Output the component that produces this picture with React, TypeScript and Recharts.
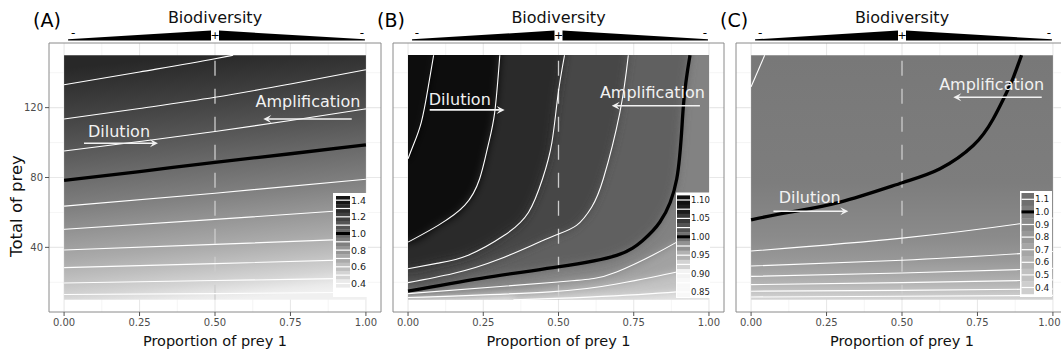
import React from "react";
import {
  ComposedChart, XAxis, YAxis, CartesianGrid, Line, Area,
  ReferenceArea, ReferenceLine, ReferenceDot,
} from "recharts";

type Pt = { x: number; y: number };
const pts = (a: number[][]): Pt[] => a.map(([x, y]) => ({ x, y }));

const FONT = "'DejaVu Sans', Verdana, sans-serif";

// axes
const xTicks = [0, 0.25, 0.5, 0.75, 1];
const xMinor = [0.125, 0.375, 0.625, 0.875];
const yTicks = [40, 80, 120];
const yMinor = [20, 60, 100, 140];

// ---- (A) contour lines ----
const a130 = pts([[0, 133.1], [0.25, 140.4], [0.5, 148], [0.56, 150]]);
const a120 = pts([[0, 113.5], [0.25, 119.5], [0.5, 125.9], [0.75, 133.5], [1, 141.7]]);
const a110 = pts([[0, 95.2], [0.25, 100.6], [0.5, 106.3], [0.75, 112.6], [1, 119.3]]);
const a100 = pts([[0, 78.3], [0.25, 83.4], [0.5, 88.7], [0.75, 93.6], [1, 98.7]]);
const a090 = pts([[0, 63.6], [0.5, 71], [1, 79]]);
const a080 = pts([[0, 50.3], [0.5, 56], [1, 62]]);
const a070 = pts([[0, 38.5], [0.5, 41.7], [1, 45]]);
const a060 = pts([[0, 28.4], [0.5, 30.7], [1, 33.1]]);
const a050 = pts([[0, 19.6], [0.5, 21], [1, 22.4]]);
const a040 = pts([[0, 13], [0.5, 13.5], [1, 14.3]]);
const aLevels = [1.3, 1.2, 1.1, 1.0, 0.9, 0.8, 0.7, 0.6, 0.5, 0.4];
const aEdge = [1.31, 0.37];

// ---- (B) ----
const b1100 = pts([[0, 90.7], [0.017, 98.3], [0.044, 111.6], [0.066, 130.7], [0.085, 150]]);
const b1075 = pts([[0, 43], [0.1, 52.6], [0.188, 64], [0.238, 79.3], [0.266, 98.3], [0.288, 117.3], [0.305, 150]]);
const b1050 = pts([[0, 27.8], [0.1, 31], [0.2, 35.5], [0.32, 46.9], [0.4, 60], [0.447, 79.3], [0.478, 100], [0.498, 126.9], [0.52, 150]]);
const b1025 = pts([[0, 19.8], [0.15, 25], [0.3, 33], [0.47, 45.5], [0.56, 52.6], [0.61, 63], [0.649, 79.3], [0.704, 117.3], [0.732, 150]]);
const b1000 = pts([[0, 14.9], [0.243, 22.3], [0.498, 28.8], [0.693, 35.4], [0.78, 44], [0.837, 54.5], [0.893, 79.3], [0.915, 121], [0.937, 150]]);
const b0975 = pts([[0, 13.5], [0.498, 20.2], [0.693, 25.9], [0.893, 43], [1, 55]]);
const b0950 = pts([[0, 11.3], [0.472, 14.5], [0.693, 19], [0.893, 25.9], [1, 31]]);
const b0925 = pts([[0.35, 10], [0.6, 11.5], [0.893, 14.5], [1, 17]]);
const bLevels = [1.1, 1.075, 1.05, 1.025, 1.0, 0.975, 0.95, 0.925];

// ---- (C) ----
const c110 = pts([[0, 132], [0.045, 150]]);
const c100 = pts([[0, 55.8], [0.129, 60.2], [0.295, 65.9], [0.501, 77], [0.626, 85], [0.736, 98.3], [0.802, 113.5], [0.847, 128.8], [0.869, 137.3], [0.896, 150]]);
const c090 = pts([[0, 37.9], [0.5, 45.3], [0.89, 53.5], [1, 56.8]]);
const c080 = pts([[0, 29.3], [0.5, 32.6], [0.89, 36.4], [1, 37.6]]);
const c070 = pts([[0, 23.4], [0.5, 25.3], [0.89, 27.3], [1, 28]]);
const c060 = pts([[0, 18.7], [0.5, 19.8], [0.89, 21], [1, 21.4]]);
const c050 = pts([[0, 14.9], [0.5, 15.4], [0.89, 16], [1, 16.2]]);
const c040 = pts([[0, 11.6], [0.5, 12], [0.89, 12.4], [1, 12.5]]);
const cLevels = [1.1, 1.0, 0.9, 0.8, 0.7, 0.6, 0.5, 0.4];
const cEdge = [1.04, 0.35];

// legends
const legendLevelsA = [1.4, 1.3, 1.2, 1.1, 1.0, 0.9, 0.8, 0.7, 0.6, 0.5, 0.4, 0.3];
const legendLabelsA = ["1.4", "1.2", "1.0", "0.8", "0.6", "0.4"];
const legendLevelsB = [1.1, 1.075, 1.05, 1.025, 1.0, 0.975, 0.95, 0.925, 0.9, 0.875, 0.85];
const legendLabelsB = ["1.10", "1.05", "1.00", "0.95", "0.90", "0.85"];
const legendLevelsC = [1.1, 1.0, 0.9, 0.8, 0.7, 0.6, 0.5, 0.4];
const legendLabelsC = ["1.1", "1.0", "0.9", "0.8", "0.7", "0.6", "0.5", "0.4"];

// ---- colour scales (white -> black) ----
const hex = (g: number) => {
  const v = Math.max(0, Math.min(255, Math.round(g))).toString(16).padStart(2, "0");
  return `#${v}${v}${v}`;
};
const grayA = (v: number) => hex(255 * (1 - (v - 0.3) / 1.2));
const grayB = (v: number) => {
  const g = v < 1.0125 ? 97 + (1.0125 - v) * 1300 : 97 - (v - 1.0125) * 1100;
  return hex(Math.max(16, Math.min(248, g)));
};
const grayC = (v: number) => hex(125 + (1 - v) * 135);

// ---- layout ----
const W = 1061;
const H = 354;
const PLOT_TOP = 43;
const PLOT_BOTTOM = 312;
const X_DOMAIN = [-0.05, 1.05];
const Y_DOMAIN = [3, 157];
const layout = [
  { left: 0, width: 382, yw: 49 },
  { left: 383, width: 342, yw: 10 },
  { left: 726, width: 343, yw: 10 },
];
const pxX = (i: number, v: number) => {
  const l = layout[i];
  const a = l.left + l.yw, b = l.left + l.width - 1;
  return a + ((v - X_DOMAIN[0]) / (X_DOMAIN[1] - X_DOMAIN[0])) * (b - a);
};
const pxY = (v: number) => PLOT_TOP + ((Y_DOMAIN[1] - v) / (Y_DOMAIN[1] - Y_DOMAIN[0])) * (PLOT_BOTTOM - PLOT_TOP);

const gridGen = (vals: number[], axis: "x" | "y", idx: number) => (p: any) => {
  const ax = axis === "x" ? p?.xAxis : p?.yAxis;
  if (ax && typeof ax.scale === "function") {
    const r = vals.map((v) => ax.scale(v));
    if (r.every((n: any) => Number.isFinite(n))) return r;
  }
  if (axis === "x") return vals.map((v) => pxX(idx, v) - layout[idx].left);
  return vals.map((v) => pxY(v));
};

const yAt = (c: Pt[], x: number) => {
  for (let i = 1; i < c.length; i++) {
    if (c[i].x >= x) {
      const a = c[i - 1], b = c[i];
      return a.y + ((b.y - a.y) * (x - a.x)) / (b.x - a.x);
    }
  }
  return c[c.length - 1].y;
};

// gradient stops from the contour positions at x = 0.5
const stopsFrom = (cs: Pt[][], levels: number[], edge: number[], gray: (v: number) => string) => {
  const s = cs
    .map((c, i) => ({ c, lv: levels[i] }))
    .filter(({ c }) => c[0].x <= 0.5 && c[c.length - 1].x >= 0.5)
    .map(({ c, lv }) => ({ off: (150 - yAt(c, 0.5)) / 140, col: gray(lv) }))
    .sort((p, q) => p.off - q.off);
  return [{ off: 0, col: gray(edge[0]) }, ...s, { off: 1, col: gray(edge[1]) }];
};

// carry a band's edge value flat past the raster border so the blur has no fringe
const padBand = (d: Pt[]) => {
  const out = [...d];
  if (out[0].x === 0) out.unshift({ x: X_DOMAIN[0], y: out[0].y });
  if (out[out.length - 1].x === 1) out.push({ x: X_DOMAIN[1], y: out[out.length - 1].y });
  return out;
};

type Note = { text: string; x: number; y: number; ax1: number; ax2: number; ay: number };
const notesA: Note[] = [
  { text: "Dilution", x: 0.182, y: 106.3, ax1: 0.066, ax2: 0.311, ay: 99.6 },
  { text: "Amplification", x: 0.808, y: 123.4, ax1: 0.953, ax2: 0.66, ay: 113.5 },
];
const notesB: Note[] = [
  { text: "Dilution", x: 0.172, y: 124.6, ax1: 0.072, ax2: 0.321, ay: 118.7 },
  { text: "Amplification", x: 0.812, y: 128.7, ax1: 0.97, ax2: 0.677, ay: 121.1 },
];
const notesC: Note[] = [
  { text: "Dilution", x: 0.194, y: 68.4, ax1: 0.074, ax2: 0.322, ay: 60.7 },
  { text: "Amplification", x: 0.797, y: 133.5, ax1: 0.963, ax2: 0.67, ay: 125.9 },
];

const NOTE_COL = "#f2f2f2";
const Arrow = (p: any) => {
  const { x1, y1, x2, y2 } = p;
  const d = Math.sign(x2 - x1) || 1;
  const hl = 8, hw = 4;
  return (
    <g>
      <line x1={x1} y1={y1} x2={x2 - d * hl * 0.6} y2={y2} stroke={NOTE_COL} strokeWidth={1.6} />
      <polygon
        points={`${x2},${y2} ${x2 - d * hl},${y2 - hw} ${x2 - d * hl * 0.6},${y2} ${x2 - d * hl},${y2 + hw}`}
        fill={NOTE_COL}
      />
    </g>
  );
};

const makeXTick = (idx: number) => (p: any) => {
  const { x, y, payload } = p;
  const label = Number(payload.value).toFixed(2);
  const over = layout[idx].left + x + 11 > W;
  return (
    <text
      x={over ? W - layout[idx].left - 0.5 : x}
      y={y}
      dy="0.71em"
      textAnchor={over ? "end" : "middle"}
      fontSize={10}
      fill="#4d4d4d"
      fontFamily={FONT}
    >
      {label}
    </text>
  );
};

type PanelProps = {
  idx: number;
  lines: { data: Pt[]; level: number }[];
  base?: { data: Pt[]; fill: string };
  bands?: { data: Pt[]; fill: string }[];
  grad?: { id: string; stops: { off: number; col: string }[]; tilt: number };
  notes: Note[];
  curve: "monotone" | "natural";
};

function Panel({ idx, lines, base, bands, grad, notes, curve }: PanelProps) {
  const l = layout[idx];
  const showY = idx === 0;
  // raster rectangle in this chart's own pixels (for the blur mask)
  const rx = pxX(idx, 0) - l.left, rw = pxX(idx, 1) - pxX(idx, 0);
  const ry = pxY(150), rh = pxY(10) - pxY(150);
  return (
    <div style={{ position: "absolute", left: l.left, top: 0 }}>
      <style>{`g.band${idx} { filter: url(#blur${idx}); }`}</style>
      <ComposedChart width={l.width} height={H} margin={{ top: PLOT_TOP, right: 1, bottom: 0, left: 0 }}>
        <defs>
          {grad && (
            <linearGradient id={grad.id} x1={0.5 - grad.tilt / 2} y1={0} x2={0.5 + grad.tilt / 2} y2={1}>
              {grad.stops.map((s, i) => (
                <stop key={i} offset={s.off} stopColor={s.col} />
              ))}
            </linearGradient>
          )}
          <filter id={`blur${idx}`} filterUnits="userSpaceOnUse" primitiveUnits="userSpaceOnUse"
            x={0} y={0} width={l.width} height={H}>
            <feGaussianBlur in="SourceGraphic" stdDeviation={4} result="bl" />
            <feFlood floodColor="#000" floodOpacity={1} x={rx} y={ry} width={rw} height={rh} result="m" />
            <feComposite in="bl" in2="m" operator="in" />
          </filter>
        </defs>
        <CartesianGrid
          stroke="#f3f3f3"
          strokeWidth={0.8}
          verticalCoordinatesGenerator={gridGen(xMinor, "x", idx)}
          horizontalCoordinatesGenerator={gridGen(yMinor, "y", idx)}
        />
        <CartesianGrid
          stroke="#e8e8e8"
          strokeWidth={1.1}
          verticalCoordinatesGenerator={gridGen(xTicks, "x", idx)}
          horizontalCoordinatesGenerator={gridGen(yTicks, "y", idx)}
        />
        <XAxis
          type="number"
          dataKey="x"
          domain={X_DOMAIN}
          allowDataOverflow
          ticks={xTicks}
          interval={0}
          tick={makeXTick(idx)}
          tickSize={4}
          tickMargin={3}
          tickLine={{ stroke: "#555" }}
          axisLine={false}
          height={42}
          label={{ value: "Proportion of prey 1", position: "insideBottom", offset: 8, fontSize: 14.5, fill: "#111", fontFamily: FONT }}
        />
        <YAxis
          type="number"
          dataKey="y"
          domain={Y_DOMAIN}
          allowDataOverflow
          ticks={yTicks}
          interval={0}
          width={l.yw}
          tick={showY ? { fontSize: 10, fill: "#4d4d4d", fontFamily: FONT } : false}
          tickSize={4}
          tickMargin={2}
          tickLine={{ stroke: "#555" }}
          axisLine={false}
        />
        {grad && (
          <ReferenceArea x1={0} x2={1} y1={10} y2={150} fill={`url(#${grad.id})`} fillOpacity={1} stroke="none" />
        )}
        {base && (
          <Area
            data={base.data}
            dataKey="y"
            type="linear"
            baseValue={150}
            fill={base.fill}
            fillOpacity={1}
            stroke="none"
            dot={false}
            activeDot={false}
            isAnimationActive={false}
          />
        )}
        {bands &&
          bands.map((b, i) => (
            <Area
              key={`b${i}`}
              className={`band${idx}`}
              data={b.data}
              dataKey="y"
              type="monotone"
              baseValue={Y_DOMAIN[1]}
              fill={b.fill}
              fillOpacity={1}
              stroke="none"
              dot={false}
              activeDot={false}
              isAnimationActive={false}
            />
          ))}
        <ReferenceLine
          segment={[{ x: 0.5, y: 10 }, { x: 0.5, y: 150 }]}
          stroke="#cccccc"
          strokeWidth={1.3}
          strokeDasharray="15 13"
        />
        {lines.map((c, i) => {
          const one = Math.abs(c.level - 1) < 1e-9;
          return (
            <Line
              key={`l${i}`}
              data={c.data}
              dataKey="y"
              type={curve}
              stroke={one ? "#000" : "#fff"}
              strokeWidth={one ? 3.3 : 1.1}
              dot={false}
              activeDot={false}
              isAnimationActive={false}
            />
          );
        })}
        {notes.map((n, i) => (
          <ReferenceLine
            key={`a${i}`}
            segment={[{ x: n.ax1, y: n.ay }, { x: n.ax2, y: n.ay }]}
            shape={Arrow}
          />
        ))}
        {notes.map((n, i) => (
          <ReferenceDot
            key={`t${i}`}
            x={n.x}
            y={n.y}
            r={0}
            fill="none"
            stroke="none"
            label={{ value: n.text, position: "center", fill: NOTE_COL, fontSize: 16, fontFamily: FONT }}
          />
        ))}
        <ReferenceArea
          x1={X_DOMAIN[0]}
          x2={X_DOMAIN[1]}
          y1={Y_DOMAIN[0]}
          y2={Y_DOMAIN[1]}
          fill="none"
          stroke="#8a8a8a"
          strokeWidth={1}
          ifOverflow="visible"
        />
      </ComposedChart>
    </div>
  );
}

function Keys(props: {
  box: number[]; keyX: number; keyW: number; keyTop: number; keyH: number;
  levels: number[]; labels: string[]; gray: (v: number) => string; fontSize: number;
}) {
  const { box, keyX, keyW, keyTop, keyH, levels, labels, gray, fontSize } = props;
  return (
    <g>
      <rect x={box[0]} y={box[1]} width={box[2]} height={box[3]} fill="#fff" />
      {levels.map((lv, i) => {
        const y = keyTop + i * keyH;
        const one = Math.abs(lv - 1) < 1e-9;
        const lab = labels.find((s) => Math.abs(parseFloat(s) - lv) < 1e-9);
        return (
          <g key={i}>
            <rect x={keyX} y={y} width={keyW} height={keyH + 0.4} fill={gray(lv)} />
            <line x1={keyX} x2={keyX + keyW} y1={y + keyH / 2} y2={y + keyH / 2}
              stroke={one ? "#000" : "#fff"} strokeWidth={one ? 3 : 1.2} />
            {lab && (
              <text x={keyX + keyW + 1} y={y + keyH / 2} dominantBaseline="central" fontSize={fontSize} fill="#1a1a1a">
                {lab}
              </text>
            )}
          </g>
        );
      })}
    </g>
  );
}

function Header({ idx, tag }: { idx: number; tag: string }) {
  const x0 = pxX(idx, 0), x1 = pxX(idx, 1);
  const cx = (x0 + x1) / 2;
  return (
    <g>
      <text x={x0 - 31} y={26.5} fontSize={19} fill="#000">{tag}</text>
      <text x={cx} y={23} textAnchor="middle" fontSize={16} fill="#111">Biodiversity</text>
      <polygon points={`${x0 + 4},40.6 ${cx - 4},40.6 ${cx - 4},30.6 ${x0 + 4},39.3`} fill="#000" />
      <polygon points={`${cx + 4},30.6 ${cx + 4},40.6 ${x1 - 1},40.6 ${x1 - 1},39.3`} fill="#000" />
      <text x={cx} y={38.8} textAnchor="middle" fontSize={11} fill="#000">+</text>
      <text x={x0 + 9} y={36.6} textAnchor="middle" fontSize={12} fill="#000">-</text>
      <text x={x1 - 4} y={36.6} textAnchor="middle" fontSize={12} fill="#000">-</text>
    </g>
  );
}

export default function App() {
  const linesA = [a130, a120, a110, a100, a090, a080, a070, a060, a050, a040].map((d, i) => ({ data: d, level: aLevels[i] }));
  const contB = [b1100, b1075, b1050, b1025, b1000, b0975, b0950, b0925];
  const linesB = contB.map((d, i) => ({ data: d, level: bLevels[i] }));
  const contC = [c110, c100, c090, c080, c070, c060, c050, c040];
  const linesC = contC.map((d, i) => ({ data: d, level: cLevels[i] }));

  // filled regions for (B): lowest level first, each covering value >= level, then softened
  const baseB = { data: [{ x: 0, y: 10 }, { x: 1, y: 10 }], fill: grayB(0.9125) };
  const bandsB = contB
    .map((d, i) => ({ data: padBand(d), fill: grayB(bLevels[i] + 0.0125), lv: bLevels[i] }))
    .sort((p, q) => p.lv - q.lv);

  const gradA = { id: "gradA", tilt: 0.12, stops: stopsFrom(linesA.map((l) => l.data), aLevels, aEdge, grayA) };
  const gradC = { id: "gradC", tilt: 0, stops: stopsFrom(linesC.map((l) => l.data), cLevels, cEdge, grayC) };

  return (
    <div
      style={{
        position: "absolute", left: 0, top: 0, width: W, height: H,
        overflow: "hidden", background: "#fff", fontFamily: FONT,
      }}
    >
      <Panel idx={0} lines={linesA} grad={gradA} notes={notesA} curve="monotone" />
      <Panel idx={1} lines={linesB} base={baseB} bands={bandsB} notes={notesB} curve="natural" />
      <Panel idx={2} lines={linesC} grad={gradC} notes={notesC} curve="natural" />
      <svg width={W} height={H} style={{ position: "absolute", left: 0, top: 0, pointerEvents: "none", fontFamily: FONT }}>
        <Header idx={0} tag="(A)" />
        <Header idx={1} tag="(B)" />
        <Header idx={2} tag="(C)" />
        <text transform="translate(22,206) rotate(-90)" textAnchor="middle" fontSize={16.5} fill="#111">
          Total of prey
        </text>
        <Keys box={[333, 193, 35, 104]} keyX={336} keyW={14} keyTop={196} keyH={8.33}
          levels={legendLevelsA} labels={legendLabelsA} gray={grayA} fontSize={9.5} />
        <Keys box={[676, 192.5, 34, 105.5]} keyX={677} keyW={13} keyTop={195.4} keyH={9.2}
          levels={legendLevelsB} labels={legendLabelsB} gray={grayB} fontSize={8.5} />
        <Keys box={[1020, 191, 32, 106]} keyX={1021.5} keyW={12.5} keyTop={193} keyH={12.6}
          levels={legendLevelsC} labels={legendLabelsC} gray={grayC} fontSize={9} />
      </svg>
    </div>
  );
}
